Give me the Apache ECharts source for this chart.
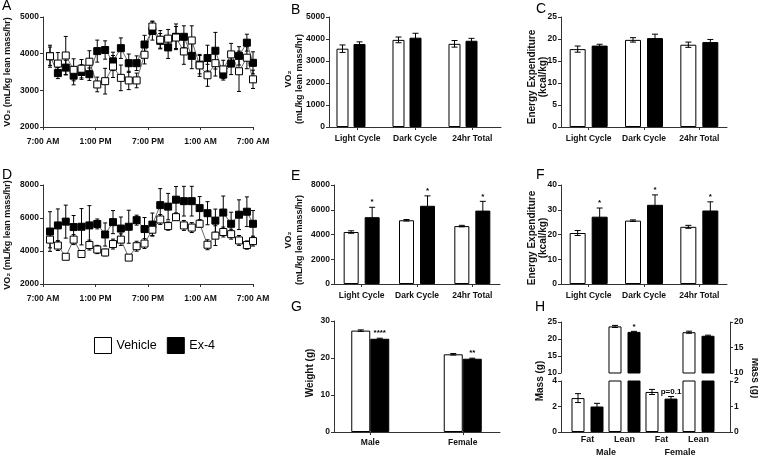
<!DOCTYPE html>
<html><head><meta charset="utf-8">
<script src="https://cdn.jsdelivr.net/npm/echarts@6/dist/echarts.min.js"></script>
<style>html,body{margin:0;padding:0;background:#fff}#c{width:758px;height:457px}</style>
</head><body><div id="c"></div>
<script>
// ---------- DATA ----------
const timeLabels = ['7:00 AM','1:00 PM','7:00 PM','1:00 AM','7:00 AM'];
const hours = [0.8,1.7,2.6,3.5,4.4,5.3,6.2,7.1,8.0,8.9,9.8,10.7,11.6,12.5,13.4,14.3,15.2,16.1,17.0,17.9,18.8,19.7,20.6,21.5,22.4,23.3,24.0];
// Panel A (VO2, first cohort)
const aVeh    = [3930,3730,3950,3560,3590,3780,3160,3250,3650,3340,3270,3270,3970,4740,4380,4410,4440,4060,4360,3680,3410,3740,3570,3980,3520,3890,3300];
const aVehErr = [250,300,520,300,250,300,200,350,300,350,250,200,250,150,250,250,300,350,400,300,300,350,250,300,550,300,250];
const aEx     = [3930,3470,3620,3400,3500,3440,4070,4100,3790,4150,3740,3740,4250,4620,4350,4170,4460,4460,3940,3700,3880,4080,3430,3730,3940,4300,3750];
const aExErr  = [300,150,200,250,200,170,300,250,250,280,250,200,250,250,200,300,350,300,350,250,350,500,150,300,250,230,300];
// Panel D (VO2, second cohort)
const dVeh    = [4690,4330,3650,4690,3820,4360,4090,3910,4420,4690,3600,4290,4450,5290,5910,5510,6050,5550,5420,5650,4380,4930,5150,5020,4640,4360,4600];
const dVehErr = [500,300,150,300,200,300,250,200,300,350,150,300,300,350,300,250,200,300,300,200,300,600,300,300,300,250,300];
const dEx     = [5180,5550,5780,5450,5470,5550,5640,5000,5750,5360,5470,5870,5330,5600,6780,6690,7110,7020,7020,6600,6290,5840,6330,5650,6200,6380,5650];
const dExErr  = [1200,1000,1000,700,1100,1200,300,700,700,700,1000,300,700,700,1000,800,800,900,900,700,700,700,1000,700,900,900,800];
// Cycle bar panels
const cycleCats = ['Light Cycle','Dark Cycle','24hr Total'];
const bVeh = [3560,3960,3780], bVehErr = [170,130,150], bEx = [3770,4060,3920], bExErr = [100,200,110];
const cVeh = [17.7,19.8,18.7], cVehErr = [0.7,0.5,0.6], cEx = [18.5,20.2,19.3], cExErr = [0.3,0.9,0.6];
const eVeh = [4200,5150,4680], eVehErr = [100,60,60], eEx = [5400,6320,5930], eExErr = [800,800,750], eSig = ['*','*','*'];
const fVeh = [20.6,25.6,23.1], fVehErr = [1.0,0.3,0.6], fEx = [27.2,32.0,29.7], fExErr = [3.5,4.0,3.5], fSig = ['*','*','*'];
// Weight
const sexCats = ['Male','Female'];
const gVeh = [27.4,21.0], gVehErr = [0.2,0.2], gEx = [25.2,19.8], gExErr = [0.15,0.15], gSig = ['****','**'];
// Body composition (male on left axis, female on right axis); [Fat, Lean]
const compCats = ['Fat','Lean','Fat','Lean'];
const hMaleVeh = [2.66,23.7], hMaleVehErr = [0.35,0.3];
const hMaleEx  = [2.0,22.1],  hMaleExErr  = [0.25,0.15], hMaleSig = ['', '*'];
const hFemVeh  = [1.57,18.0], hFemVehErr  = [0.1,0.2];
const hFemEx   = [1.31,17.3], hFemExErr   = [0.08,0.12], hFemSig = ['p=0.1',''];

// ---------- STYLE ----------
const FF = '"Liberation Sans", Arial, sans-serif';
const AX = {color:'#333', width:1};
const numFmt = (v) => String(v);
const YL = {fontSize:8.5, fontWeight:'bold', color:'#111', fontFamily:FF, margin:4, formatter:numFmt};
const XL = {fontSize:8.5, fontWeight:'bold', color:'#111', fontFamily:FF, margin:7};
const chart = echarts.init(document.getElementById('c'), null, {renderer:'canvas'});

const grids = [], xAxes = [], yAxes = [], series = [];
function addGrid(g){ grids.push(Object.assign({outerBoundsMode:'none', containLabel:false}, g)); return grids.length-1; }
function yAx(gi, min, max, interval, extra){
  yAxes.push(Object.assign({type:'value', gridIndex:gi, min, max, interval, position:'left',
    axisLine:{show:true, lineStyle:AX}, axisTick:{show:true, length:3, lineStyle:AX},
    axisLabel:YL, splitLine:{show:false}}, extra||{}));
  return yAxes.length-1;
}
function hiddenY(gi, min, max, extra){
  yAxes.push(Object.assign({type:'value', gridIndex:gi, min, max, show:false, splitLine:{show:false}}, extra||{}));
  return yAxes.length-1;
}
function catX(gi, cats, extra){
  xAxes.push(Object.assign({type:'category', gridIndex:gi, data:cats, position:'bottom',
    axisLine:{show:true, lineStyle:AX}, axisTick:{show:true, length:3, alignWithLabel:true, lineStyle:AX},
    axisLabel:Object.assign({}, XL, {interval:0}), splitLine:{show:false}}, extra||{}));
  return xAxes.length-1;
}
function capLines(x, yT, yB, cw){
  const st = {stroke:'#000', lineWidth:1};
  return [
    {type:'line', shape:{x1:x, y1:yT, x2:x, y2:yB}, style:st},
    {type:'line', shape:{x1:x-cw, y1:yT, x2:x+cw, y2:yT}, style:st},
    {type:'line', shape:{x1:x-cw, y1:yB, x2:x+cw, y2:yB}, style:st}
  ];
}
function barErr(xi, yi, vals, errs, offPx, sig, z){
  return {type:'custom', xAxisIndex:xi, yAxisIndex:yi, z:z||5, silent:true, clip:false,
    encode:{x:0, y:1},
    data: vals.map((v,i)=> v==null ? [i,'-','-'] : [i, v, errs[i]]),
    renderItem(params, api){
      const i = api.value(0), v = api.value(1), e = api.value(2);
      if (isNaN(v)) return null;
      const p = api.coord([i, v]), t = api.coord([i, v+e]), b = api.coord([i, v-e]);
      const x = p[0] + offPx;
      const ch = capLines(x, t[1], b[1], 3);
      const s = sig ? sig[params.dataIndex] : '';
      if (s) ch.push({type:'text', style:{text:s, x:x, y:t[1]-1, align:'center', verticalAlign:'bottom',
        font:'bold 8px ' + FF, fill:'#000'}});
      return {type:'group', children:ch};
    }};
}
function bars(xi, yi, name, vals, bw, gap, isVeh){
  return {type:'bar', name, xAxisIndex:xi, yAxisIndex:yi, data:vals, barWidth:bw, barGap:gap, clip:true,
    itemStyle: isVeh ? {color:'#fff', borderColor:'#000', borderWidth:1} : {color:'#000', borderColor:'#000', borderWidth:1},
    emphasis:{disabled:true}, silent:true, z:2};
}
function cyclePanel(g, ymin, ymax, yint, veh, vehErr, ex, exErr, sig, bw, gapPx, barGrid){
  const gi = addGrid(g);
  let xi = catX(gi, cycleCats);
  let yi = yAx(gi, ymin, ymax, yint);
  if (barGrid) {
    const gb = addGrid(Object.assign({top:g.top, height:g.height}, barGrid));
    xi = catX(gb, cycleCats, {axisLine:{show:false}, axisTick:{show:false}, axisLabel:{show:false}});
    yi = hiddenY(gb, ymin, ymax);
  }
  const gap = (gapPx/bw*100).toFixed(1) + '%';
  series.push(bars(xi, yi, 'Vehicle', veh, bw, gap, true));
  series.push(bars(xi, yi, 'Ex-4', ex, bw, gap, false));
  series.push(barErr(xi, yi, veh, vehErr, -(bw+gapPx)/2, null));
  series.push(barErr(xi, yi, ex, exErr, (bw+gapPx)/2, sig));
}
function timePanel(g, ymin, ymax, yint, veh, vehErr, ex, exErr){
  const gi = addGrid(g);
  xAxes.push({type:'value', gridIndex:gi, min:0, max:24, interval:6, position:'bottom',
    axisLine:{show:true, lineStyle:AX}, axisTick:{show:true, length:3, lineStyle:AX},
    axisLabel:Object.assign({}, XL, {margin:10, showMinLabel:true, showMaxLabel:true, formatter:(v)=>timeLabels[Math.round(v/6)]}),
    splitLine:{show:false}});
  const xi = xAxes.length-1;
  const yi = yAx(gi, ymin, ymax, yint);
  const errS = (vals, errs) => ({type:'custom', xAxisIndex:xi, yAxisIndex:yi, z:1, silent:true, clip:false,
    encode:{x:0, y:1}, data: vals.map((v,i)=>[hours[i], v, errs[i]]),
    renderItem(params, api){
      const h = api.value(0), v = api.value(1), e = api.value(2);
      const t = api.coord([h, v+e]), b = api.coord([h, v-e]);
      return {type:'group', children:capLines(t[0], t[1], b[1], 2)};
    }});
  series.push(errS(ex, exErr));
  series.push(errS(veh, vehErr));
  const line = (name, vals, fill) => ({type:'line', name, xAxisIndex:xi, yAxisIndex:yi, z:3, silent:true,
    data: vals.map((v,i)=>[hours[i], v]), symbol:'rect', symbolSize:7,
    lineStyle:{color:'#444', width:0.8}, itemStyle:{color:fill, borderColor:'#000', borderWidth:1},
    emphasis:{disabled:true}});
  series.push(line('Ex-4', ex, '#000'));
  series.push(line('Vehicle', veh, '#fff'));
}

// ---------- PANELS ----------
const R2T = 185, R2H = 99;
timePanel({left:43, top:17, width:210, height:110}, 2000, 5000, 1000, aVeh, aVehErr, aEx, aExErr);
timePanel({left:43, top:R2T, width:210, height:R2H}, 2000, 8000, 2000, dVeh, dVehErr, dEx, dExErr);
cyclePanel({left:329, top:17, width:172, height:110}, 0, 5000, 1000, bVeh, bVehErr, bEx, bExErr, null, 12, 5, {left:323, width:168});
cyclePanel({left:561, top:17, width:166, height:110}, 0, 25, 5, cVeh, cVehErr, cEx, cExErr, null, 16, 6);
cyclePanel({left:334, top:R2T, width:166, height:R2H}, 0, 8000, 2000, eVeh, eVehErr, eEx, eExErr, eSig, 15, 6);
cyclePanel({left:561, top:R2T, width:166, height:R2H}, 0, 40, 10, fVeh, fVehErr, fEx, fExErr, fSig, 16, 6);

// G: weight
(function(){
  const gd = addGrid({left:334, top:321, width:166, height:111});
  catX(gd, ['',''], {axisTick:{show:false}, axisLabel:{show:false}});
  yAx(gd, 0, 30, 10);
  const gb = addGrid({left:324, top:321, width:185, height:111});
  const xi = catX(gb, sexCats, {axisLine:{show:false}, axisLabel:Object.assign({}, XL, {margin:6})});
  const yi = hiddenY(gb, 0, 30);
  series.push(bars(xi, yi, 'Vehicle', gVeh, 19, '0%', true));
  series.push(bars(xi, yi, 'Ex-4', gEx, 19, '0%', false));
  series.push(barErr(xi, yi, gVeh, gVehErr, -9.5, null));
  series.push(barErr(xi, yi, gEx, gExErr, 9.5, gSig));
})();

// H: body composition with broken axis
(function(){
  const bw = 13, gapPx = 6, gap = (gapPx/bw*100).toFixed(1)+'%', off = (bw+gapPx)/2;
  const maleFull = (arr) => [arr[0], arr[1], null, null];
  const femFull  = (arr) => [null, null, arr[0], arr[1]];
  // x-axis line
  const gl = addGrid({left:561, top:381, width:169, height:51});
  catX(gl, [''], {axisTick:{show:false}, axisLabel:{show:false}});
  hiddenY(gl, 0, 1);
  // top segment
  const gt = addGrid({left:569, top:322, width:148, height:51});
  const hid = {axisLine:{show:false}, axisTick:{show:false}, axisLabel:{show:false}};
  const xtA = catX(gt, compCats, hid), xtB = catX(gt, compCats, hid);
  const ytL = yAx(gt, 10, 25, 5, {offset:8});
  const ytR = yAx(gt, 10, 20, 5, {position:'right', offset:13});
  // bottom segment
  const gb = addGrid({left:569, top:381, width:148, height:51});
  const xbA = catX(gb, compCats, {axisLine:{show:false}, axisTick:{show:false}, axisLabel:Object.assign({}, XL, {fontSize:9, margin:3})});
  const xbB = catX(gb, compCats, hid);
  catX(gb, sexCats, {axisLine:{show:false}, axisTick:{show:false}, axisLabel:Object.assign({}, XL, {fontSize:9, margin:16})});
  const ybL = yAx(gb, 0, 4, 2, {offset:8});
  const ybR = yAx(gb, 0, 2, 1, {position:'right', offset:13});
  [[xtA, ytL, xtB, ytR], [xbA, ybL, xbB, ybR]].forEach(([xa, yl, xb, yr], seg) => {
    series.push(bars(xa, yl, 'Vehicle', maleFull(hMaleVeh), bw, gap, true));
    series.push(bars(xa, yl, 'Ex-4', maleFull(hMaleEx), bw, gap, false));
    series.push(bars(xb, yr, 'Vehicle', femFull(hFemVeh), bw, gap, true));
    series.push(bars(xb, yr, 'Ex-4', femFull(hFemEx), bw, gap, false));
    const pick = (arr, idx) => arr.map((v,i)=> i===idx ? v : null);
    const k = seg === 0 ? 1 : 0; // lean errors on top, fat errors on bottom
    series.push(barErr(xa, yl, pick(maleFull(hMaleVeh), k), maleFull(hMaleVehErr), -off, null));
    series.push(barErr(xa, yl, pick(maleFull(hMaleEx), k), maleFull(hMaleExErr), off, maleFull(hMaleSig)));
    series.push(barErr(xb, yr, pick(femFull(hFemVeh), k+2), femFull(hFemVehErr), -off, null));
    series.push(barErr(xb, yr, pick(femFull(hFemEx), k+2), femFull(hFemExErr), off, femFull(hFemSig)));
  });
})();

// ---------- TEXT ----------
const T = (text, x, y, opt) => ({type:'text', x, y, silent:true,
  style:Object.assign({text, font:'bold 10px ' + FF, fill:'#111', align:'center', verticalAlign:'middle', lineHeight:11}, opt||{})});
const R = Math.PI/2;
const rot = (el, r) => Object.assign(el, {rotation:r});
const F9 = {font:'bold 9px ' + FF};
const graphic = [
  rot(T('VO₂ (mL/kg lean mass/hr)', 8, 72, F9), R),
  rot(T('VO₂ (mL/kg lean mass/hr)', 8, 235, F9), R),
  rot(T('VO₂\n(mL/kg lean mass/hr)', 294, 79, F9), R),
  rot(T('VO₂\n(mL/kg lean mass/hr)', 294, 240, F9), R),
  rot(T('Energy Expenditure\n(kcal/kg)', 538, 77), R),
  rot(T('Energy Expenditure\n(kcal/kg)', 538, 238), R),
  rot(T('Weight (g)', 310, 373), R),
  rot(T('Mass (g)', 540, 381), R),
  rot(T('Mass (g)', 755, 378), -R),
];
[['A',2,1],['B',291,5],['C',536,4],['D',2,170],['E',291,171],['F',536,170],['G',291,302],['H',535,302]].forEach(([t,x,y])=>{
  graphic.push(T(t, x, y, {font:'14px ' + FF, fill:'#000', align:'left', verticalAlign:'top'}));
});

chart.setOption({
  animation:false,
  backgroundColor:'#fff',
  grid:grids, xAxis:xAxes, yAxis:yAxes, series,
  legend:{left:94, top:337, padding:0, itemWidth:17, itemHeight:16, itemGap:10, selectedMode:false,
    textStyle:{fontSize:12.5, color:'#000', fontFamily:FF},
    data:[{name:'Vehicle', icon:'rect', itemStyle:{color:'#fff', borderColor:'#000', borderWidth:1}},
          {name:'Ex-4', icon:'rect', itemStyle:{color:'#000', borderColor:'#000', borderWidth:1}}]},
  graphic
});
</script></body></html>
